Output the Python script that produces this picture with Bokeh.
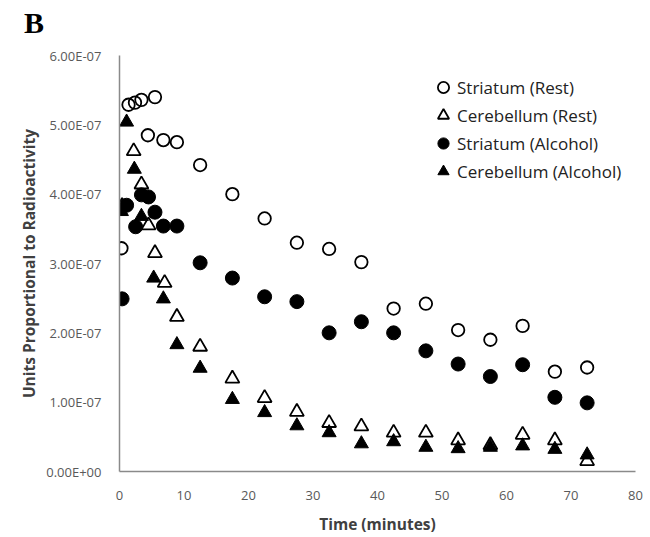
from bokeh.plotting import figure
from bokeh.models import (Range1d, FixedTicker, CustomJSTickFormatter, Legend, LegendItem, Div)
from bokeh.layouts import column
from bokeh.embed import file_html
from bokeh.resources import INLINE

# ---- data (time in minutes, values in units proportional to radioactivity) ----
striatum_rest_t = [0.3, 1.4, 2.4, 3.4, 4.4, 5.5, 6.8, 8.9, 12.5, 17.5, 22.5, 27.5, 32.5, 37.5,
                   42.5, 47.5, 52.5, 57.5, 62.5, 67.5, 72.5]
striatum_rest_v = [3.22e-7, 5.29e-7, 5.32e-7, 5.36e-7, 4.85e-7, 5.40e-7, 4.78e-7, 4.75e-7, 4.42e-7,
                   4.00e-7, 3.65e-7, 3.30e-7, 3.21e-7, 3.02e-7, 2.35e-7, 2.42e-7, 2.04e-7, 1.90e-7,
                   2.10e-7, 1.44e-7, 1.50e-7]

cerebellum_rest_t = [0.4, 2.2, 3.4, 4.5, 5.5, 7.0, 8.9, 12.5, 17.5, 22.5, 27.5, 32.5, 37.5,
                     42.5, 47.5, 52.5, 57.5, 62.5, 67.5, 72.5]
cerebellum_rest_v = [3.83e-7, 4.62e-7, 4.14e-7, 3.55e-7, 3.15e-7, 2.72e-7, 2.23e-7, 1.80e-7, 1.34e-7,
                     1.06e-7, 0.86e-7, 0.70e-7, 0.65e-7, 0.56e-7, 0.56e-7, 0.45e-7, 0.38e-7, 0.53e-7,
                     0.45e-7, 0.15e-7]

striatum_alcohol_t = [0.4, 1.1, 2.5, 3.4, 4.5, 5.5, 6.8, 8.9, 12.5, 17.5, 22.5, 27.5, 32.5, 37.5,
                      42.5, 47.5, 52.5, 57.5, 62.5, 67.5, 72.5]
striatum_alcohol_v = [2.49e-7, 3.84e-7, 3.53e-7, 3.99e-7, 3.96e-7, 3.74e-7, 3.54e-7, 3.54e-7, 3.01e-7,
                      2.79e-7, 2.52e-7, 2.45e-7, 2.00e-7, 2.16e-7, 2.00e-7, 1.74e-7, 1.55e-7, 1.37e-7,
                      1.54e-7, 1.07e-7, 0.99e-7]

cerebellum_alcohol_t = [0.3, 1.1, 2.3, 3.4, 5.3, 6.8, 8.9, 12.5, 17.5, 22.5, 27.5, 32.5, 37.5,
                        42.5, 47.5, 52.5, 57.5, 62.5, 67.5, 72.5]
cerebellum_alcohol_v = [3.75e-7, 5.04e-7, 4.36e-7, 3.68e-7, 2.79e-7, 2.49e-7, 1.83e-7, 1.49e-7, 1.04e-7,
                        0.85e-7, 0.66e-7, 0.56e-7, 0.40e-7, 0.43e-7, 0.35e-7, 0.33e-7, 0.35e-7, 0.37e-7,
                        0.32e-7, 0.24e-7]

series_names = ["Striatum (Rest)", "Cerebellum (Rest)", "Striatum (Alcohol)", "Cerebellum (Alcohol)"]
x_ticks = [0, 10, 20, 30, 40, 50, 60, 70, 80]
y_ticks = [0, 1e-7, 2e-7, 3e-7, 4e-7, 5e-7, 6e-7]
panel_letter = "B"

FONT = "Open Sans"
AXIS_GREY = "#8a8a8a"
TICK_TEXT = "#595959"

p = figure(width=650, height=497, output_backend="svg", toolbar_location=None,
           x_range=Range1d(0, 80), y_range=Range1d(0, 6e-7),
           min_border_left=119, min_border_right=15, min_border_top=15, min_border_bottom=65)
p.outline_line_color = None
p.xgrid.visible = False
p.ygrid.visible = False
p.background_fill_color = "white"
p.border_fill_color = "white"

p.xaxis.ticker = FixedTicker(ticks=x_ticks)
p.yaxis.ticker = FixedTicker(ticks=y_ticks)
p.yaxis.formatter = CustomJSTickFormatter(code="""
    const s = tick.toExponential(2);
    const parts = s.split('e');
    const sign = parts[1][0];
    const d = parts[1].slice(1).padStart(2, '0');
    return parts[0] + 'E' + sign + d;
""")

for ax in (p.xaxis[0], p.yaxis[0]):
    ax.axis_line_color = AXIS_GREY
    ax.axis_line_width = 1.5
    ax.major_tick_line_color = None
    ax.minor_tick_line_color = None
    ax.major_label_text_font = FONT
    ax.major_label_text_font_size = "13px"
    ax.major_label_text_color = TICK_TEXT
    ax.axis_label_text_font = FONT
    ax.axis_label_text_font_style = "bold"
    ax.axis_label_text_font_size = "15.5px"
    ax.axis_label_text_color = "#404040"

p.xaxis.axis_label = "Time (minutes)"
p.yaxis.axis_label = "Units Proportional to Radioactivity"
p.xaxis.major_label_standoff = 13
p.xaxis.axis_label_standoff = 10
p.yaxis.major_label_standoff = 12
p.yaxis.axis_label_standoff = 3

r1 = p.scatter(striatum_rest_t, striatum_rest_v, marker="circle", size=12.5,
               fill_color=None, line_color="black", line_width=1.8)
r2 = p.scatter(cerebellum_rest_t, cerebellum_rest_v, marker="triangle", size=14,
               fill_color=None, line_color="black", line_width=1.8)
r3 = p.scatter(striatum_alcohol_t, striatum_alcohol_v, marker="circle", size=14,
               fill_color="black", line_color="black", line_width=1)
r4 = p.scatter(cerebellum_alcohol_t, cerebellum_alcohol_v, marker="triangle", size=14,
               fill_color="black", line_color="black", line_width=1)

legend = Legend(items=[LegendItem(label=n, renderers=[r]) for n, r in zip(series_names, [r1, r2, r3, r4])],
                location=(310, 286), border_line_color=None, background_fill_alpha=0,
                padding=0, margin=0, spacing=0, glyph_width=28, glyph_height=28, label_height=28,
                label_standoff=0, label_text_font=FONT, label_text_font_size="17px",
                label_text_color="#222222")
p.add_layout(legend, "center")

header = Div(text=("<div style=\"font-family:'Liberation Serif',serif;font-weight:bold;"
                   "font-size:30px;line-height:30px;padding-top:8px;padding-left:24px;"
                   "color:black;margin:0\">" + panel_letter + "</div>"),
             width=650, height=40, margin=(0, 0, 0, 0))

layout = column(header, p, spacing=0, margin=(0, 0, 0, 0))

open("out.html", "w").write(file_html(layout, INLINE))
